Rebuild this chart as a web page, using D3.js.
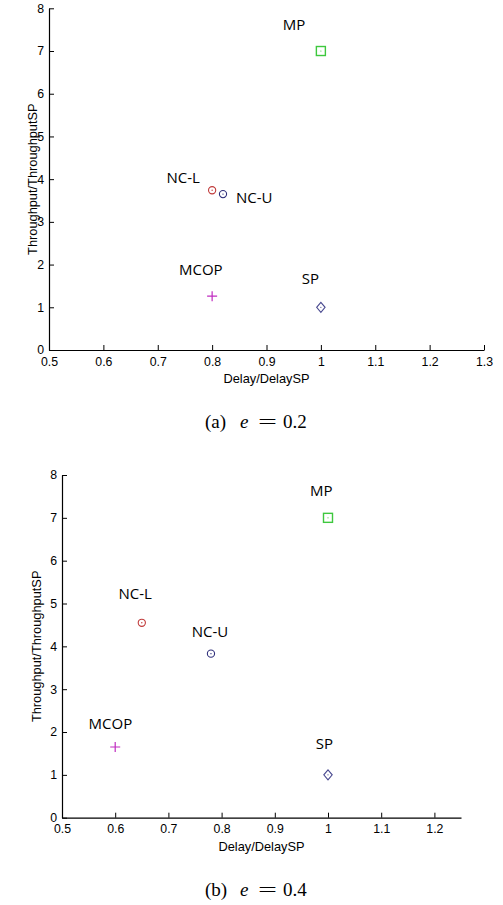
<!DOCTYPE html>
<html><head><meta charset="utf-8">
<script src="https://cdn.jsdelivr.net/npm/d3@7"></script>
<style>
body{margin:0;background:#fff;}
svg{display:block;}
</style></head>
<body>
<script>
// ---- data ----
const names = ["MP","NC-L","NC-U","MCOP","SP"];
const markerKinds = ["square","circle","circle","plus","diamond"];
const markerColors = ["#3ec83e","#c03a3a","#2e2e7a","#c02cc0","#4a4a90"];

// panel (a) e = 0.2
const delayA = [1.0, 0.8, 0.82, 0.8, 1.0];
const thrA   = [7.0, 3.74, 3.65, 1.26, 1.0];
const labelXA = [0.930, 0.716, 0.844, 0.739, 0.965];
const labelYA = [7.63, 4.06, 3.59, 1.90, 1.69];
const xTicksA = [0.5,0.6,0.7,0.8,0.9,1.0,1.1,1.2,1.3];
const xDomainA = [0.5,1.3];

// panel (b) e = 0.4
const delayB = [1.0, 0.65, 0.78, 0.6, 1.0];
const thrB   = [7.0, 4.55, 3.83, 1.65, 1.0];
const labelXB = [0.966, 0.606, 0.744, 0.55, 0.977];
const labelYB = [7.66, 5.24, 4.35, 2.22, 1.74];
const xTicksB = [0.5,0.6,0.7,0.8,0.9,1.0,1.1,1.2];
const xDomainB = [0.5,1.25];

const yTicks = [0,1,2,3,4,5,6,7,8];
const yDomain = [0,8];
const xLabel = "Delay/DelaySP";
const yLabel = "Throughput/ThroughputSP";

// ---- drawing ----
const svg = d3.select("body").append("svg").attr("width",503).attr("height",905);
const fmt = d => String(+(+d).toFixed(2));

function panel(cfg){
  const x = d3.scaleLinear().domain(cfg.xDomain).range([cfg.left, cfg.right]);
  const y = d3.scaleLinear().domain(yDomain).range([cfg.bottom, cfg.top]);
  const g = svg.append("g");

  const xa = g.append("g").attr("transform",`translate(0,${cfg.bottom})`)
    .call(d3.axisBottom(x).tickValues(cfg.xTicks).tickFormat(fmt).tickSizeInner(-5).tickSizeOuter(0).tickPadding(7));
  const ya = g.append("g").attr("transform",`translate(${cfg.left},0)`)
    .call(d3.axisLeft(y).tickValues(yTicks).tickFormat(fmt).tickSizeInner(-5).tickSizeOuter(0).tickPadding(5));
  [xa,ya].forEach(a=>{
    a.selectAll("path.domain").attr("stroke","#000").attr("stroke-width",1.2);
    a.selectAll(".tick line").attr("stroke","#000").attr("stroke-width",1);
    a.selectAll("text").attr("fill","#000").attr("font-family","Liberation Sans, Arial, sans-serif").attr("font-size",12.3);
  });

  g.append("text").attr("x",(cfg.left+cfg.right)/2).attr("y",cfg.bottom+28.5)
    .attr("text-anchor","middle").attr("dominant-baseline","central")
    .attr("font-family","Liberation Sans, Arial, sans-serif").attr("font-size",12.8).attr("fill","#000")
    .text(xLabel);
  g.append("text").attr("transform",`translate(${cfg.ylabX},${(cfg.top+cfg.bottom)/2}) rotate(-90)`)
    .attr("text-anchor","middle").attr("dominant-baseline","central")
    .attr("font-family","Liberation Sans, Arial, sans-serif").attr("font-size",12.8).attr("fill","#000")
    .text(yLabel);

  const pts = names.map((n,i)=>({n, k:markerKinds[i], c:markerColors[i], dx:cfg.delay[i], ty:cfg.thr[i], lx:cfg.lx[i], ly:cfg.ly[i]}));
  const mk = g.selectAll("g.m").data(pts).join("g").attr("class","m")
    .attr("transform",d=>`translate(${x(d.dx)},${y(d.ty)})`);
  mk.each(function(d){
    const s = d3.select(this);
    if(d.k==="circle"){
      s.append("circle").attr("r",3.6).attr("fill","none").attr("stroke",d.c).attr("stroke-width",1.1);
      s.append("circle").attr("r",0.7).attr("fill",d.c);
    } else if(d.k==="square"){
      s.append("rect").attr("x",-4.5).attr("y",-4.5).attr("width",9).attr("height",9)
        .attr("fill","none").attr("stroke",d.c).attr("stroke-width",1.4);
      s.append("circle").attr("r",0.6).attr("fill",d.c);
    } else if(d.k==="plus"){
      s.append("path").attr("d","M-5,0H5M0,-5V5").attr("stroke",d.c).attr("stroke-width",1.2).attr("fill","none");
    } else if(d.k==="diamond"){
      s.append("path").attr("d","M0,-5L4.2,0L0,5L-4.2,0Z").attr("fill","none").attr("stroke",d.c).attr("stroke-width",1.1);
      s.append("circle").attr("r",0.6).attr("fill",d.c);
    }
  });
  g.selectAll("text.lab").data(pts).join("text").attr("class","lab")
    .attr("x",d=>x(d.lx)).attr("y",d=>y(d.ly))
    .attr("dominant-baseline","central")
    .attr("font-family","Open Sans, Noto Sans, sans-serif").attr("font-size",15).attr("font-weight",500).attr("fill","#000")
    .text(d=>d.n);

  // caption
  const cap = g.append("text").attr("y",cfg.capY).attr("dominant-baseline","central")
    .attr("font-family","Liberation Serif, Times New Roman, serif").attr("font-size",19).attr("fill","#000");
  cap.append("tspan").attr("x",205).text(cfg.capTag);
  cap.append("tspan").attr("x",240).attr("font-style","italic").text("e");
  cap.append("tspan").attr("x",258).attr("textLength",19).attr("lengthAdjust","spacingAndGlyphs").text("=");
  cap.append("tspan").attr("x",283).text(cfg.capVal);
}

panel({xDomain:xDomainA, xTicks:xTicksA, left:49, right:484, top:8.3, bottom:350, ylabX:32,
  delay:delayA, thr:thrA, lx:labelXA, ly:labelYA, capY:421, capTag:"(a)", capVal:"0.2"});
panel({xDomain:xDomainB, xTicks:xTicksB, left:62, right:461, top:475, bottom:817.7, ylabX:36,
  delay:delayB, thr:thrB, lx:labelXB, ly:labelYB, capY:889, capTag:"(b)", capVal:"0.4"});
</script>
</body></html>
